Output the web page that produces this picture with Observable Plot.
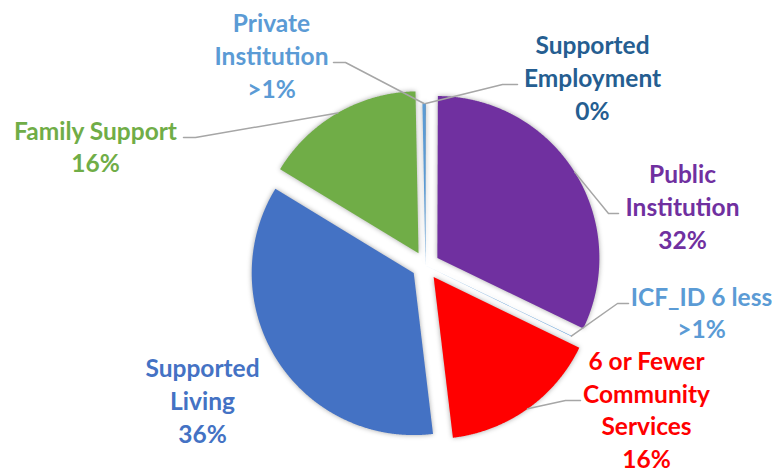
<!DOCTYPE html>
<html><head><meta charset="utf-8">
<script src="https://cdn.jsdelivr.net/npm/d3@7"></script>
<script src="https://cdn.jsdelivr.net/npm/@observablehq/plot@0.6"></script>
<style>
body{margin:0;background:#fff}
#chart svg{display:block}
.slice{filter:drop-shadow(0 0 2.5px rgba(0,0,0,0.35))}
</style>
</head><body><div id="chart"></div>
<script>
// ---- data ----
const categories = ["Supported Employment","Public Institution","ICF_ID 6 less","6 or Fewer Community Services","Supported Living","Family Support","Private Institution"];
const values = [0.05, 32.1, 0.05, 15.9, 35.6, 16.0, 0.3];
const valueLabels = ["0%","32%",">1%","16%","36%","16%",">1%"];
const labelNames = ["Supported\nEmployment","Public\nInstitution","ICF_ID 6 less","6 or Fewer\nCommunity\nServices","Supported\nLiving","Family Support","Private\nInstitution"];
const sliceColors = ["#255E91","#7030A0","#5B9BD5","#FF0000","#4472C4","#70AD47","#5B9BD5"];
const labelColors = ["#255E91","#7030A0","#5B9BD5","#FF0000","#4472C4","#70AD47","#5B9BD5"];
const exploded = [false,true,false,true,true,true,false];

// ---- layout ----
const W = 772, H = 474, CX = 425, CY = 265, R = 162, EXPLODE = 14;
const labelPos = [[592,76],[682,205],[701,311],[646,408],[202,399],[95,145],[271,54]];
const leaderElbow = [[502,84],[608,213],[617,303],[565,400],null,[195,137],[345,62]];
const leaderEnd   = [[517,84],[618,213],[628,303],[580,400],null,[183,137],[333,62]];

const rows = categories.map((c,i)=>({key:c, value:values[i], color:sliceColors[i], i}));
const arcs = d3.pie().sort(null).value(d=>d.value)(rows);

const slicePts = [];
const leaderPts = [];
arcs.forEach(a=>{
  const d = a.data, i = d.i;
  const mid = (a.startAngle + a.endAngle)/2;
  const off = exploded[i] ? EXPLODE : 0;
  const tx = CX + off*Math.sin(mid), ty = CY - off*Math.cos(mid);
  slicePts.push({key:d.key, color:d.color, x:tx, y:ty});
  const n = Math.max(2, Math.ceil((a.endAngle - a.startAngle)/(Math.PI/720)));
  for (let k=0;k<=n;k++){
    const t = a.startAngle + (a.endAngle - a.startAngle)*k/n;
    slicePts.push({key:d.key, color:d.color, x:tx + R*Math.sin(t), y:ty - R*Math.cos(t)});
  }
  slicePts.push({key:d.key, color:d.color, x:tx, y:ty});
  if (leaderElbow[i]) {
    leaderPts.push({key:d.key, x:tx + R*Math.sin(mid), y:ty - R*Math.cos(mid)});
    leaderPts.push({key:d.key, x:leaderElbow[i][0], y:leaderElbow[i][1]});
    leaderPts.push({key:d.key, x:leaderEnd[i][0], y:leaderEnd[i][1]});
  }
});

const labels = categories.map((c,i)=>({
  text: labelNames[i] + "\n" + valueLabels[i],
  x: labelPos[i][0], y: labelPos[i][1], color: labelColors[i]
}));

const chart = Plot.plot({
  width: W, height: H,
  margin: 0,
  x: {domain:[0,W], range:[0,W], axis:null},
  y: {domain:[0,H], range:[0,H], axis:null},
  color: {type:"identity"},
  style: {background:"#fff"},
  marks: [
    Plot.line(slicePts, {x:"x", y:"y", z:"key", fill:"color", stroke:"none", className:"slice"}),
    Plot.line(leaderPts, {x:"x", y:"y", z:"key", stroke:"#A6A6A6", strokeWidth:1.5}),
    Plot.text(labels, {x:"x", y:"y", text:"text", fill:"color", fontSize:24.5, fontWeight:"bold",
      fontFamily:"Lato", lineHeight:1.33, textAnchor:"middle"})
  ]
});
document.getElementById("chart").appendChild(chart);
</script>
</body></html>
